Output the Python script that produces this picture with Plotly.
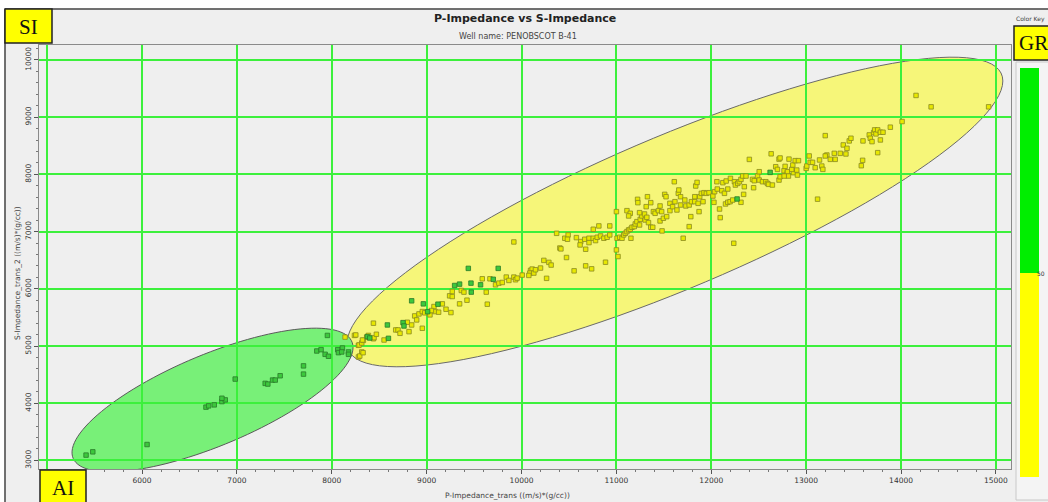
import numpy as np
import plotly.graph_objects as go

# ---------------- data ----------------
# GR >= 50 samples (green)
high_gr_x = [5410, 5481, 6053, 6982, 6674, 6702, 6761, 6842, 6877, 6842, 7298, 7326, 7376, 7404,
             7456, 7702, 7702, 7842, 7887, 7954, 7930, 7965, 8063, 8070, 8112, 8105, 8176, 8176,
             8375, 8400, 8586, 8597, 8751, 8761, 8842, 8965, 9119, 9010, 9295, 9347, 9439, 9467,
             9470, 9568, 9702, 9754, 12272, 12620]
high_gr_y = [3093, 3150, 3278, 4422, 3931, 3954, 3971, 4029, 4058, 4087, 4347, 4335, 4405, 4405,
             4480, 4653, 4509, 4913, 4936, 5185, 4855, 4821, 4936, 4884, 4965, 4896, 4896, 4855,
             5164, 5140, 5368, 5134, 5409, 5350, 5790, 5737, 5731, 5600, 6058, 6082, 6357, 6099,
             5942, 6070, 6166, 6357, 7570, 8035]

# GR < 50 samples (yellow)
low_gr_x = [
    8140, 8239, 8253, 8281, 8288, 8316, 8333, 8368, 8386, 8323, 8439, 8439, 8445, 8470, 8316,
    8281, 8295, 8330, 8551, 8674, 8698, 8719,
    8796, 8814, 8842, 8874, 8895, 8919, 8954, 8954, 8980,
    9035, 9077, 9088, 9126, 9165, 9204, 9256, 9242, 9270, 9270, 9347, 9365, 9393, 9425, 9050,
    9586, 9628, 9639, 9667, 9726, 9761, 9797, 9839, 9867, 9919, 9937, 9954, 10007, 9919,
    10095, 10112, 10088, 10130, 10077, 10147, 10200, 10235, 10288, 10312, 10264, 10404, 10370,
    10474, 10456, 10491, 10484, 10415,
    10554, 10578, 10624, 10617, 10676, 10676, 10666, 10711, 10711, 10756, 10756, 10780, 10798,
    10815, 10833, 10868, 10885, 10739, 10902, 10930, 10930, 11000, 11017, 11000,
    11007, 11035, 11059, 11077, 11094, 11111, 11129, 11146, 11153, 11164, 11188, 11199, 11216,
    11244, 11251, 11268, 11296, 11303, 11321, 11338, 11362, 11383, 11111, 11146, 11129, 11223,
    11226, 11244, 11327, 11314, 11362, 11390, 11408, 11443, 11460, 11477, 11460, 11495, 11530,
    11481, 11509, 11523, 11564, 11564, 11592, 11610, 11617, 11638, 11652, 11658, 11676, 11676,
    11704, 11721, 11732, 11767, 11784, 11767, 11791, 11826, 11826, 11836, 11850, 11861, 11871,
    11878, 11895, 11913, 11923, 11948, 11976, 12017, 12028, 12035, 12059, 12063, 12087, 12094,
    12111, 12122, 12139, 12150, 12157, 12174, 12174, 12198, 12202, 12226, 12244, 12254, 12279,
    12296, 12313, 12331, 12341, 12313, 12348, 12366, 12237, 12401, 12435, 12446, 12453, 12488,
    12505, 12505, 12540, 12575, 12592, 12603, 12644, 12631, 12679, 12697, 12714, 12714, 12767,
    12801, 12819,
    12725, 12778, 12803, 12725, 12813, 12866, 12901, 12908, 12768, 12848, 12859, 12884, 12919,
    13000, 13007, 13032, 13042, 13067, 13095, 13141, 13165, 13176, 13120, 13201, 13218, 13201,
    13254, 13306, 13296, 13359, 13419, 13391, 13430, 13454, 13472, 13581, 13595, 13599, 13665,
    13676, 13694, 13711, 13722, 13736, 13754, 13754, 13782, 13782, 13810, 13887, 14011, 14158,
    14317, 14923]
low_gr_y = [
    5156, 5185, 5193, 5012, 5018, 5052, 5098, 5156, 5185, 5105, 5399, 5127, 5146, 5205, 4896,
    4809, 4825, 4883, 5105, 5281, 5281, 5222,
    5415, 5251, 5368, 5526, 5456, 5561, 5602, 5310, 5580,
    5544, 5690, 5602, 5591, 5737, 5643, 5585, 5877, 5865, 5953, 5737, 5971, 5942, 5801, 5620,
    6175, 5942, 5731, 6175, 6070, 6099, 6111, 6205, 6146, 6205, 6158, 6187, 6240, 6819,
    6322, 6345, 6275, 6275, 6234, 6333, 6363, 6497, 6462, 6415, 6183, 6713, 6970,
    6547, 6884, 6942, 6866, 6698,
    6314, 6895, 6826, 6767, 6692, 6401, 6866, 6884, 6808, 7041, 6884, 6843, 6901,
    7099, 6924, 6884, 6465, 6349, 6901, 7099, 6942, 6680, 6564, 7349,
    6884, 6901, 6884, 6942, 6971, 7000, 7029, 7041, 6884, 7076, 7087, 7134, 7174,
    7116, 7215, 7273, 7308, 7203, 7250, 7157, 7076, 7076, 7366, 7320, 7273, 7564,
    7506, 7331, 7610, 7436, 7506, 7349, 7320, 7366, 7448, 7349, 7186, 7233, 7262,
    7012, 7651, 7610, 7494, 7366, 7436, 7872, 7523, 7378, 7669, 7727, 7610, 7465,
    6884, 7552, 7448, 7465, 7262, 7087, 7523, 7610, 7523, 7797, 7860, 7494, 7349,
    7610, 7669, 7523, 7680, 7669, 7680, 7622, 7512, 7698, 7872, 7744, 7395, 7244,
    7715, 7855, 7669, 7483, 7884, 7744, 7512, 7523, 7930, 7552, 7872, 7814, 7843,
    7872, 7913, 7971, 7651, 7512, 7785, 7971, 6796, 8262, 7913, 7767, 7890, 7971,
    8047, 7901, 7872, 7872, 7843, 7826, 7814, 8360, 8134, 8087, 8267, 7901, 8064,
    8029, 8267,
    8287, 8140, 8047, 7959, 7971, 8030, 8076, 7988, 7971, 8088, 8164, 8240, 8240,
    8105, 8146, 8322, 8211, 8211, 8117, 8252, 8146, 8088, 7567, 8678, 8339, 8322,
    8263, 8263, 8368, 8368, 8357, 8515, 8456, 8585, 8632, 8152, 8246, 8585, 8690,
    8632, 8573, 8731, 8778, 8708, 8778, 8380, 8602, 8737, 8737, 8825, 8924, 9380,
    9181, 9181]

# cluster outlines: centre and two conjugate semi-diameters (data units)
low_gr_outline = dict(center=(11617, 7343), a=(3456, 2290), b=(0, 1442))
high_gr_outline = dict(center=(6743, 4056), a=(1481, 918), b=(0, 857))

x_ticks = [5000, 6000, 7000, 8000, 9000, 10000, 11000, 12000, 13000, 14000, 15000]
x_tick_text = ["", "6000", "7000", "8000", "9000", "10000", "11000", "12000", "13000", "14000", "15000"]
y_ticks = [3000, 4000, 5000, 6000, 7000, 8000, 9000, 10000]
x_range = [4914, 15159]
y_range = [2850, 10262]

TITLE = "P-Impedance vs S-Impedance"
SUBTITLE = "Well name: PENOBSCOT B-41"
X_TITLE = "P-Impedance_trans ((m/s)*(g/cc))"
Y_TITLE = "S-Impedance_trans_2 ((m/s)*(g/cc))"
COLOR_KEY_CUT = "50"

# ---------------- layout helpers ----------------
W, H = 1048, 502
L, R, T, B = 39, 1011, 45, 469


def px(x):
    return (x - L) / (R - L)


def py(y):
    return (B - y) / (B - T)


def ellipse_path(center, a, b, n=120):
    t = np.linspace(0, 2 * np.pi, n)
    xs = center[0] + a[0] * np.cos(t) + b[0] * np.sin(t)
    ys = center[1] + a[1] * np.cos(t) + b[1] * np.sin(t)
    pts = [f"{x:.1f},{y:.1f}" for x, y in zip(xs, ys)]
    return "M" + " L".join(pts) + " Z"


GRID = "#3cf03c"
BG = "#efefef"

fig = go.Figure()
fig.add_trace(go.Scatter(
    x=low_gr_x, y=low_gr_y, mode="markers", name="GR < 50",
    marker=dict(symbol="square", size=4.5, color="#e8e800",
                line=dict(color="#8a8a20", width=0.8)),
    cliponaxis=True))
fig.add_trace(go.Scatter(
    x=high_gr_x, y=high_gr_y, mode="markers", name="GR >= 50",
    marker=dict(symbol="square", size=4.5, color="#3cc83c",
                line=dict(color="#2a7a2a", width=0.8)),
    cliponaxis=True))

shapes = []
# cluster ellipses (below grid lines)
shapes.append(dict(type="path", xref="x", yref="y", layer="below",
                   path=ellipse_path(**low_gr_outline),
                   fillcolor="#f6f679", line=dict(color="#6a6a6a", width=1)))
shapes.append(dict(type="path", xref="x", yref="y", layer="below",
                   path=ellipse_path(**high_gr_outline),
                   fillcolor="#78f078", line=dict(color="#5a5a5a", width=1)))


def prect(x0, y0, x1, y1, fill, line=None, lw=0):
    return dict(type="rect", xref="paper", yref="paper",
                x0=px(x0), x1=px(x1), y0=py(y1), y1=py(y0),
                fillcolor=fill, line=dict(color=line or fill, width=lw), layer="above")


def pline(x0, y0, x1, y1, color, lw):
    return dict(type="line", xref="paper", yref="paper",
                x0=px(x0), x1=px(x1), y0=py(y0), y1=py(y1),
                line=dict(color=color, width=lw), layer="above")


# white page strips outside frame
shapes.append(prect(0, 0, W + 2, 8.5, "#ffffff"))
shapes.append(prect(0, 0, 4.5, H + 2, "#ffffff"))
# frame lines
shapes.append(pline(5, 9, W + 2, 9, "#444444", 1.5))
shapes.append(pline(5, 9, 5, H + 2, "#444444", 1.5))
# colour key panel
shapes.append(prect(1016, 62, W + 4, 500, "#f4f4f4", "#c8c8c8", 1))
shapes.append(prect(1020, 68, 1039, 273, "#00ee00"))
shapes.append(prect(1020, 273, 1039, 477, "#ffff00"))
# yellow label boxes
shapes.append(prect(5, 9, 52, 43, "#ffff00", "#222222", 1.5))
shapes.append(prect(40, 470, 86, H + 4, "#ffff00", "#222222", 1.5))
shapes.append(prect(1014, 26, W + 4, 60, "#ffff00", "#222222", 1.5))


def pann(x, y, text, size, color="#333333", family="DejaVu Sans", xanchor="center",
         yanchor="middle", angle=0, bold=False):
    if bold:
        text = f"<b>{text}</b>"
    return dict(xref="paper", yref="paper", x=px(x), y=py(y), text=text, showarrow=False,
                xanchor=xanchor, yanchor=yanchor, textangle=angle,
                font=dict(size=size, color=color, family=family))


annotations = [
    pann(525, 19, TITLE, 11, color="#222222", bold=True),
    pann(518, 36, SUBTITLE, 8, color="#444444"),
    pann(507, 495, X_TITLE, 7.5, color="#444444"),
    pann(17, 273, Y_TITLE, 7.5, color="#444444", angle=-90),
    pann(1047, 19, "Color Key", 6, color="#444444", xanchor="right"),
    pann(1047, 273, COLOR_KEY_CUT, 6, color="#333333", xanchor="right"),
    pann(28.5, 26.5, "SI", 21, color="#111111", family="Liberation Serif"),
    pann(63, 488, "AI", 21, color="#111111", family="Liberation Serif"),
    pann(1033, 43.5, "GR", 21, color="#111111", family="Liberation Serif"),
]

fig.update_layout(
    width=W, height=H,
    margin=dict(l=L, r=W - R, t=T, b=H - B, pad=0),
    paper_bgcolor=BG, plot_bgcolor=BG,
    showlegend=False,
    shapes=shapes, annotations=annotations,
    font=dict(family="DejaVu Sans", size=8, color="#333333"),
)
fig.update_xaxes(
    range=x_range, tickvals=x_ticks, ticktext=x_tick_text,
    showgrid=True, gridcolor=GRID, gridwidth=2, zeroline=False,
    ticks="outside", ticklen=4, tickcolor="#555555", tickwidth=1,
    minor=dict(dtick=200, tick0=0, ticks="outside", ticklen=2, tickcolor="#777777", showgrid=False),
    showline=True, linecolor="#8a8a8a", linewidth=1, mirror=True,
    tickfont=dict(size=7.5, color="#333333"),
)
fig.update_yaxes(
    range=y_range, tickvals=y_ticks, ticktext=[str(v) for v in y_ticks],
    showgrid=True, gridcolor=GRID, gridwidth=2, zeroline=False,
    ticks="outside", ticklen=4, tickcolor="#555555", tickwidth=1, tickangle=-90,
    minor=dict(dtick=200, tick0=0, ticks="outside", ticklen=2, tickcolor="#777777", showgrid=False),
    showline=True, linecolor="#8a8a8a", linewidth=1, mirror=True,
    tickfont=dict(size=7.5, color="#333333"),
)

fig.write_html("out.html")
